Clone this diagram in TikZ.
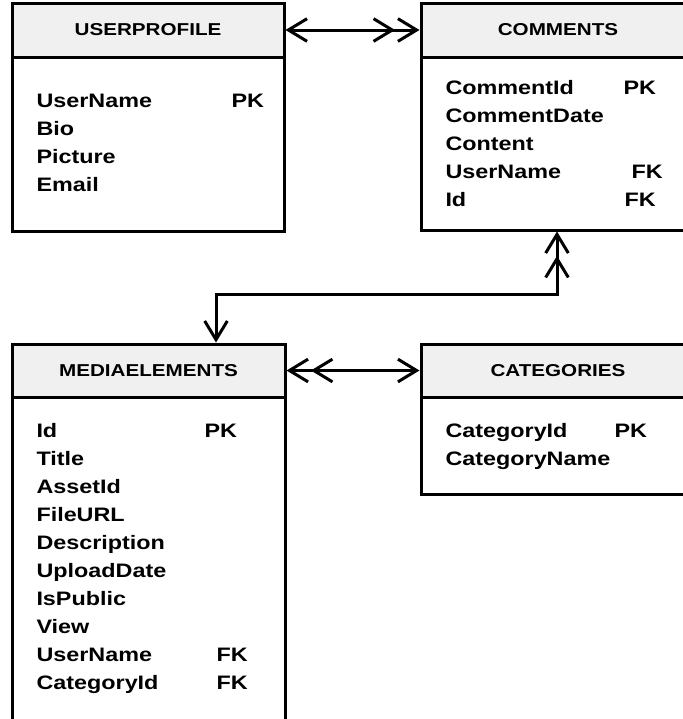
\documentclass[tikz,border=0pt]{standalone}
\usepackage{fontspec}
\setmainfont{Liberation Sans}[FakeStretch=1.2]
\usetikzlibrary{arrows.meta,fit}
\definecolor{hdrgray}{RGB}{240,240,240}
\begin{document}
\begin{tikzpicture}[x=0.75pt,y=-0.75pt,line width=2.25pt,
  hdr/.style={draw,fill=hdrgray,inner sep=0pt},
  bdy/.style={draw,fill=white,inner sep=0pt},
  ttl/.style={font=\bfseries\fontsize{12.9}{15}\selectfont,inner sep=0pt},
  fld/.style={font=\bfseries\fontsize{14.6}{17}\selectfont,anchor=base west,inner sep=0pt},
  onebarb/.tip={Straight Barb[length=14pt,width=17pt]},
  twobarb/.tip={Straight Barb[length=14pt,width=17pt,sep=1pt] Straight Barb[length=14pt,width=17pt]}
]
\useasboundingbox (0,0) rectangle (683,719);
\clip (0,0) rectangle (683,719);

% USERPROFILE
\node[hdr,fit={(12,3)(284,57)}] (uph) {};
\node[bdy,fit={(12,57)(284,231)}] (upb) {};
\node[ttl] (upt) at (uph.center) {USERPROFILE};
\node[fld] (up1) at (35,107) {UserName};
\node[fld] (up1k) at (230,107) {PK};
\node[fld] (up2) at (35,135) {Bio};
\node[fld] (up3) at (35,163) {Picture};
\node[fld] (up4) at (35,191) {Email};

% COMMENTS
\node[hdr,fit={(421,3)(695,57)}] (cmh) {};
\node[bdy,fit={(421,57)(695,230)}] (cmb) {};
\node[ttl] (cmt) at (cmh.center) {COMMENTS};
\node[fld] (cm1) at (444,94) {CommentId};
\node[fld] (cm1k) at (622,94) {PK};
\node[fld] (cm2) at (444,122) {CommentDate};
\node[fld] (cm3) at (444,150) {Content};
\node[fld] (cm4) at (444,178) {UserName};
\node[fld] (cm4k) at (630,178) {FK};
\node[fld] (cm5) at (444,206) {Id};
\node[fld] (cm5k) at (623,206) {FK};

% MEDIAELEMENTS
\node[hdr,fit={(12,344)(285,397)}] (meh) {};
\node[bdy,fit={(12,397)(285,740)}] (meb) {};
\node[ttl] (met) at (meh.center) {MEDIAELEMENTS};
\node[fld] (me1) at (35,437) {Id};
\node[fld] (me1k) at (203,437) {PK};
\node[fld] (me2) at (35,465) {Title};
\node[fld] (me3) at (35,493) {AssetId};
\node[fld] (me4) at (35,521) {FileURL};
\node[fld] (me5) at (35,549) {Description};
\node[fld] (me6) at (35,577) {UploadDate};
\node[fld] (me7) at (35,605) {IsPublic};
\node[fld] (me8) at (35,633) {View};
\node[fld] (me9) at (35,661) {UserName};
\node[fld] (me9k) at (215,661) {FK};
\node[fld] (me10) at (35,689) {CategoryId};
\node[fld] (me10k) at (215,689) {FK};

% CATEGORIES
\node[hdr,fit={(421,344)(695,397)}] (cah) {};
\node[bdy,fit={(421,397)(695,494)}] (cab) {};
\node[ttl] (cat) at (cah.center) {CATEGORIES};
\node[fld] (ca1) at (444,437) {CategoryId};
\node[fld] (ca1k) at (613,437) {PK};
\node[fld] (ca2) at (444,465) {CategoryName};

% connectors
\draw[onebarb-twobarb] (uph.east) -- (cmh.west);
\coordinate (c1) at (557,294);
\coordinate (c2) at (216,294);
\draw[twobarb-onebarb] (cmb.south -| c1) -- (c1) -- (c2) -- (meh.north -| c2);
\draw[twobarb-onebarb] (meh.east) -- (cah.west);
\end{tikzpicture}
\end{document}
